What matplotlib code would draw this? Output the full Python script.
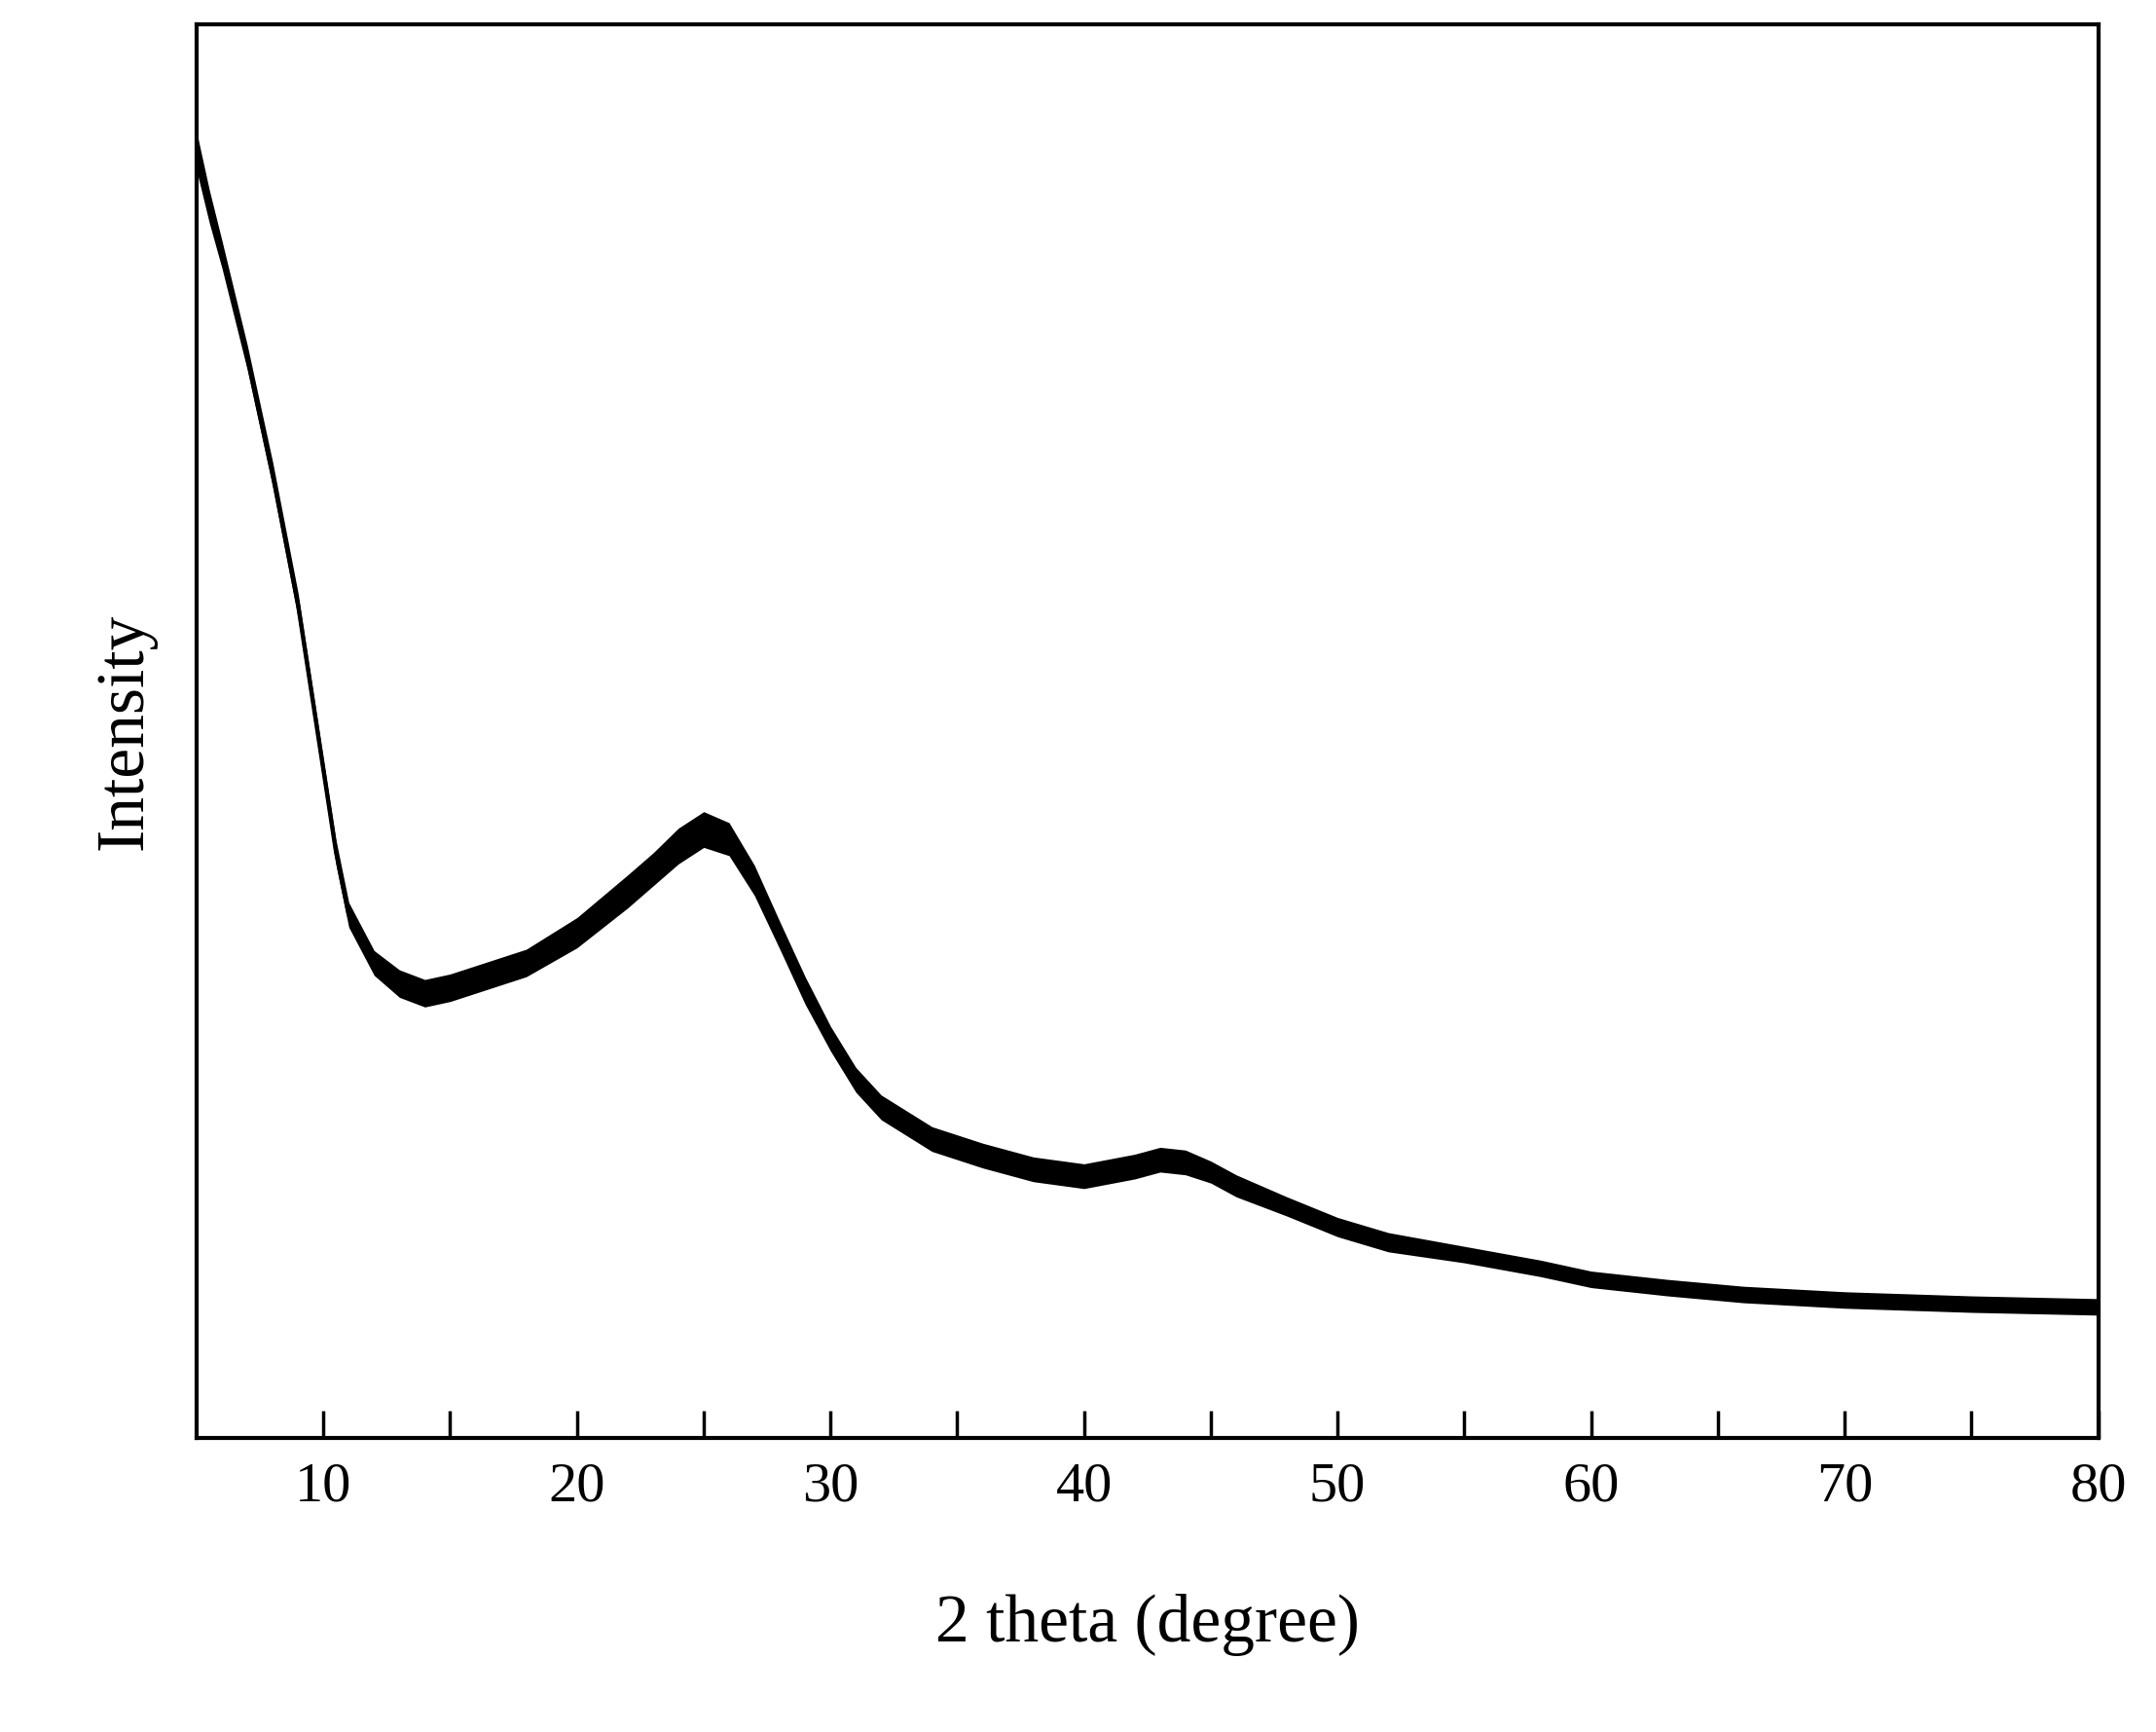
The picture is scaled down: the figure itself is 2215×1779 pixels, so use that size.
import matplotlib
matplotlib.use("Agg")
import matplotlib.pyplot as plt
import numpy as np

two_theta = [5, 5.5, 6, 7, 8, 9, 10, 10.5, 11, 12, 13, 14, 15, 16, 18, 20, 22, 23, 24, 25,
             26, 27, 28, 29, 30, 31, 32, 34, 36, 38, 40, 42, 43, 44, 45, 46, 48, 50, 52,
             55, 58, 60, 63, 66, 70, 75, 80]
intensity_px = [110, 150, 185, 260, 345, 440, 560, 620, 665, 700, 715, 722, 718, 712, 700,
                678, 648, 632, 615, 603, 610, 640, 680, 720, 755, 785, 805, 828, 840, 850,
                855, 848, 843, 845, 852, 862, 877, 892, 903, 912, 922, 930, 936, 941, 945,
                948, 950]
noise_half = [14, 12, 10, 9, 9, 9, 9, 9, 9, 9, 10, 10, 10, 10, 10, 11, 12, 12, 13, 13,
              12, 11, 10, 10, 9, 9, 9, 9, 9, 9, 9, 9, 9, 9, 8, 8, 7, 7, 7, 6, 6, 6, 6,
              6, 6, 6, 6]

x = np.array(two_theta)
y = 1045 - np.array(intensity_px)
h = np.array(noise_half)

plt.rcParams['font.family'] = ['Liberation Serif', 'DejaVu Serif']
fig = plt.figure(figsize=(22.15, 17.79), dpi=100)
ax = fig.add_axes([0.0912, 0.170, 0.882, 0.8157])
ax.fill_between(x, y - h, y + h, color='black', lw=0)
ax.plot(x, y, color='black', lw=3)
ax.set_xlim(5, 80)
ax.set_ylim(0, 1027)
ax.set_yticks([])
ax.set_xticks(range(10, 81, 10))
ax.set_xticks(range(15, 80, 10), minor=True)
ax.tick_params(axis='x', which='both', direction='in', length=20, width=2.5,
               labelsize=42, pad=18)
for s in ax.spines.values():
    s.set_linewidth(3)
ax.set_xlabel('2 theta (degree)', fontsize=50, labelpad=60)
ax.set_ylabel('Intensity', fontsize=50, labelpad=30)
fig.savefig('out.png', dpi=100)
